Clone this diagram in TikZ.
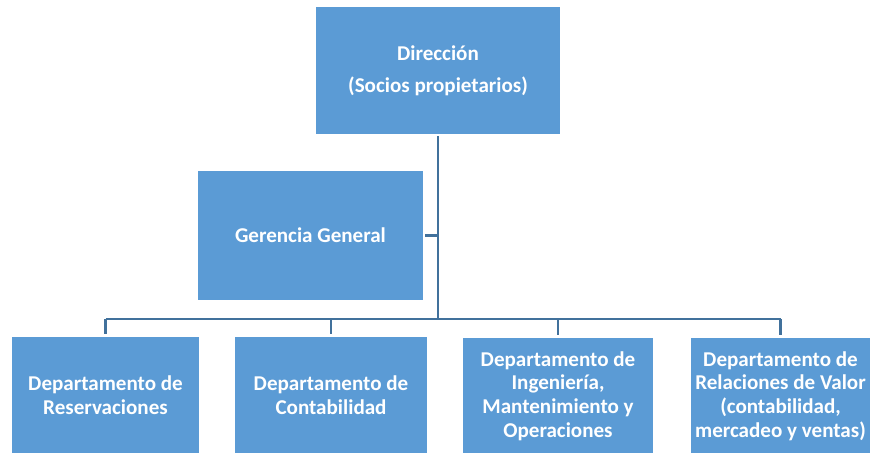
\documentclass[tikz,border=0pt]{standalone}
\usepackage{fontspec}
\setmainfont{Carlito}
\definecolor{boxblue}{HTML}{5B9BD5}
\definecolor{lineblue}{HTML}{41719C}
\tikzset{
  unit/.style={fill=boxblue,text=white,font=\fontsize{15.8}{17.8}\selectfont\bfseries,align=center,inner sep=0pt},
  conn/.style={lineblue,line width=2.1pt}
}
\begin{document}
\begin{tikzpicture}[x=0.75pt,y=0.75pt]
    \useasboundingbox (0,0) rectangle (872,453);
    \node[unit,minimum width=183pt,minimum height=95.25pt] (dir) at (438,382.5) {Dirección\\[6.5pt](Socios propietarios)};
    \node[unit,minimum width=168.75pt,minimum height=96.75pt] (ger) at (310.5,217.5) {Gerencia General};
    \node[unit,minimum width=140.25pt,minimum height=87pt] (dep1) at (105.5,58) {Departamento de\\Reservaciones};
    \node[unit,minimum width=144pt,minimum height=87pt] (dep2) at (331,58) {Departamento de\\Contabilidad};
    \node[unit,minimum width=142.5pt,minimum height=87pt] (dep3) at (558,57) {Departamento de\\Ingeniería,\\Mantenimiento y\\Operaciones};
    \node[unit,minimum width=134.25pt,minimum height=87pt] (dep4) at (780.5,57) {Departamento de\\Relaciones de Valor\\(contabilidad,\\mercadeo y ventas)};
    \coordinate (bus) at (438,134);
    \draw[conn,shorten <=1.5pt] (dir.south) -- (bus);
    \draw[conn,shorten <=1.5pt] (ger.east) -- (ger.east -| bus);
    \draw[conn] (dep1.north |- bus) -- (dep4.north |- bus);
    \foreach \d in {dep1,dep2,dep3,dep4}
        \draw[conn,shorten >=2.2pt] (\d.north |- bus) -- (\d.north);
\end{tikzpicture}
\end{document}
